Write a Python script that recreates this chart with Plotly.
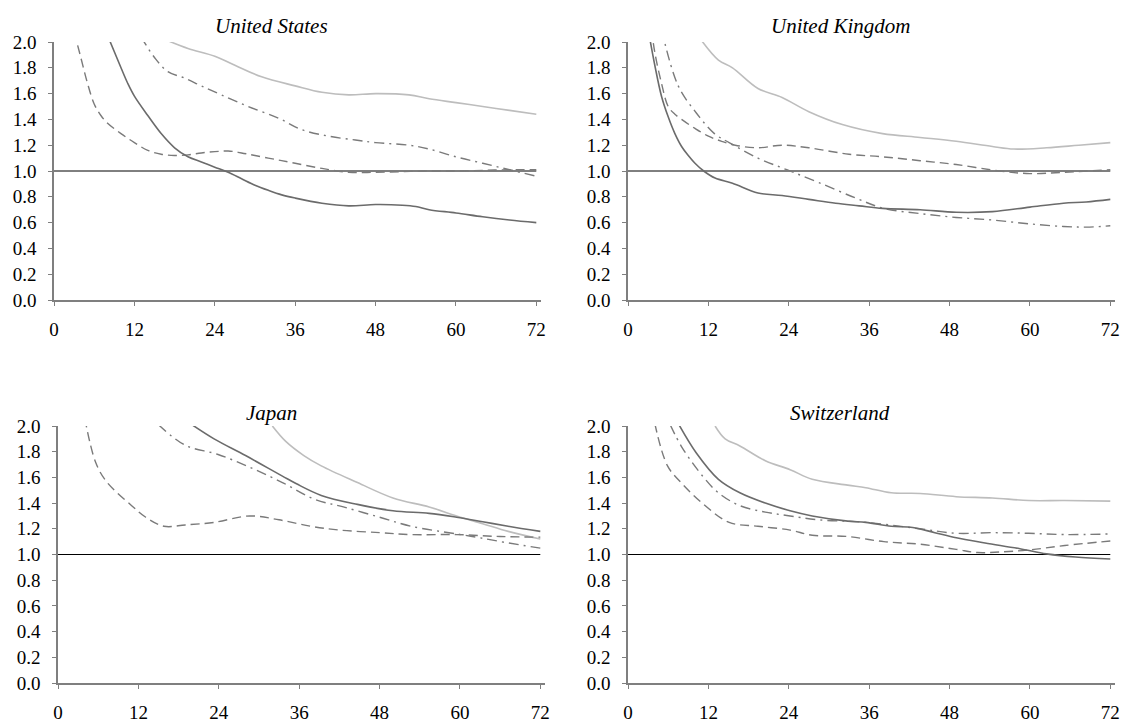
import plotly.graph_objects as go

# ---------------- data (months, ratio) ----------------
titles = ["United States", "United Kingdom", "Japan", "Switzerland"]

us_solid_x = [8, 10, 11, 12, 14, 16, 18, 20, 22, 24, 26, 28, 30, 32, 34, 36, 40, 44, 48, 52, 54, 56, 60, 64, 68, 72]
us_solid_y = [2.05, 1.80, 1.68, 1.58, 1.43, 1.29, 1.18, 1.11, 1.07, 1.03, 0.99, 0.94, 0.89, 0.85, 0.815, 0.79, 0.75, 0.73, 0.74, 0.735, 0.725, 0.70, 0.675, 0.645, 0.62, 0.60]
us_light_x = [17, 20, 24, 27, 31, 36, 40, 44, 48, 53, 56, 60, 64, 68, 72]
us_light_y = [2.01, 1.95, 1.89, 1.82, 1.73, 1.66, 1.61, 1.59, 1.60, 1.59, 1.56, 1.53, 1.50, 1.47, 1.44]
us_dash_x = [3, 4, 5, 6, 7, 8, 10, 12, 14, 16, 18, 20, 22, 24, 26, 28, 30, 33, 36, 40, 44, 48, 52, 56, 60, 64, 68, 72]
us_dash_y = [2.08, 1.88, 1.68, 1.52, 1.43, 1.37, 1.29, 1.22, 1.16, 1.13, 1.12, 1.125, 1.14, 1.15, 1.155, 1.14, 1.12, 1.09, 1.06, 1.02, 0.99, 0.99, 0.995, 1.0, 1.0, 1.005, 1.01, 1.01]
us_dd_x = [13, 15, 17, 19.5, 22, 25, 29, 33.5, 37, 41, 45, 48, 53, 56, 60, 64, 68, 72]
us_dd_y = [2.04, 1.88, 1.77, 1.72, 1.66, 1.59, 1.50, 1.41, 1.32, 1.27, 1.24, 1.22, 1.20, 1.17, 1.11, 1.06, 1.01, 0.96]

uk_solid_x = [3, 4, 5, 6, 7, 8, 9, 10, 11.3, 13, 15.6, 19.4, 23, 27, 31, 34.5, 38, 43.6, 49, 54.4, 60, 65, 68.4, 72]
uk_solid_y = [2.1, 1.82, 1.58, 1.42, 1.29, 1.19, 1.12, 1.06, 1.00, 0.945, 0.905, 0.83, 0.81, 0.78, 0.75, 0.73, 0.71, 0.70, 0.68, 0.685, 0.72, 0.75, 0.76, 0.78]
uk_light_x = [11, 13.5, 15.6, 19.4, 23, 27, 32, 38, 43.6, 49, 54.4, 57.6, 62.5, 67.3, 72]
uk_light_y = [2.01, 1.86, 1.80, 1.64, 1.57, 1.46, 1.36, 1.29, 1.26, 1.23, 1.19, 1.17, 1.18, 1.20, 1.22]
uk_dash_x = [3.5, 4, 5, 6, 7, 8, 10, 12, 14, 16, 19.4, 23, 27, 33, 38, 43.6, 49, 55.5, 60, 65, 72]
uk_dash_y = [2.1, 1.92, 1.68, 1.50, 1.44, 1.40, 1.33, 1.27, 1.23, 1.20, 1.18, 1.20, 1.18, 1.13, 1.11, 1.08, 1.05, 1.00, 0.98, 0.99, 1.01]
uk_dd_x = [5, 7.5, 10.2, 12.9, 15.1, 19.4, 23.7, 28.5, 34, 38.2, 43.6, 49, 54.4, 60, 65, 68.4, 72]
uk_dd_y = [2.1, 1.66, 1.45, 1.29, 1.22, 1.10, 1.01, 0.91, 0.79, 0.71, 0.67, 0.64, 0.62, 0.59, 0.57, 0.565, 0.575]

jp_solid_x = [20, 23.3, 28, 33.5, 35.6, 39.3, 44.7, 50, 55.4, 59.5, 63.4, 67.2, 72]
jp_solid_y = [2.01, 1.90, 1.77, 1.61, 1.55, 1.46, 1.39, 1.34, 1.32, 1.29, 1.255, 1.22, 1.18]
jp_light_x = [32, 34, 36.7, 39.3, 44.7, 50, 55.4, 59.5, 63.4, 67.2, 72]
jp_light_y = [2.0, 1.88, 1.77, 1.69, 1.56, 1.44, 1.37, 1.30, 1.24, 1.18, 1.12]
jp_dash_x = [4, 5.6, 7.2, 11, 13.1, 15.8, 19, 23.3, 28.6, 33, 37.7, 42, 48, 52.7, 59.5, 66, 72]
jp_dash_y = [2.06, 1.72, 1.57, 1.38, 1.29, 1.22, 1.23, 1.25, 1.30, 1.27, 1.22, 1.19, 1.17, 1.155, 1.155, 1.14, 1.135]
jp_dd_x = [15, 19, 23.8, 28.6, 33.5, 38.3, 42.6, 48, 52.7, 59.5, 63, 67.2, 72]
jp_dd_y = [2.01, 1.85, 1.78, 1.68, 1.56, 1.43, 1.37, 1.29, 1.22, 1.16, 1.13, 1.09, 1.05]

ch_solid_x = [7.5, 10.2, 13.5, 16.7, 20.5, 24.2, 27.5, 32.8, 35.5, 39.3, 42.5, 45.8, 49, 53.3, 58.5, 62.5, 66.8, 72]
ch_solid_y = [2.02, 1.79, 1.585, 1.48, 1.40, 1.34, 1.30, 1.26, 1.25, 1.22, 1.21, 1.17, 1.13, 1.09, 1.045, 1.005, 0.98, 0.965]
ch_light_x = [13, 14.5, 16.7, 20.5, 24.2, 27.5, 32.8, 35.5, 39.3, 43.6, 49, 54.4, 59.8, 65.2, 72]
ch_light_y = [2.0, 1.90, 1.845, 1.73, 1.66, 1.585, 1.54, 1.52, 1.48, 1.475, 1.45, 1.44, 1.42, 1.42, 1.415]
ch_dash_x = [4, 5.9, 8.1, 11.3, 15.1, 19.4, 24.2, 27.5, 32.8, 38.2, 43.6, 49, 52.2, 55.5, 59.8, 65.2, 72]
ch_dash_y = [2.02, 1.69, 1.55, 1.39, 1.25, 1.22, 1.19, 1.15, 1.14, 1.10, 1.08, 1.04, 1.015, 1.02, 1.035, 1.07, 1.105]
ch_dd_x = [6.3, 8.1, 11.3, 13.5, 16.7, 20.5, 24.2, 28.5, 35.5, 43.6, 49, 54.4, 59.8, 65.2, 72]
ch_dd_y = [2.01, 1.83, 1.60, 1.48, 1.38, 1.33, 1.30, 1.27, 1.25, 1.20, 1.165, 1.17, 1.165, 1.155, 1.16]

ref_x = [0, 72]
ref_y = [1.0, 1.0]

x_ticks = [0, 12, 24, 36, 48, 60, 72]
y_ticks = [0.0, 0.2, 0.4, 0.6, 0.8, 1.0, 1.2, 1.4, 1.6, 1.8, 2.0]
y_tick_text = ["0.0", "0.2", "0.4", "0.6", "0.8", "1.0", "1.2", "1.4", "1.6", "1.8", "2.0"]

panels = [
    (us_solid_x, us_solid_y, us_light_x, us_light_y, us_dash_x, us_dash_y, us_dd_x, us_dd_y),
    (uk_solid_x, uk_solid_y, uk_light_x, uk_light_y, uk_dash_x, uk_dash_y, uk_dd_x, uk_dd_y),
    (jp_solid_x, jp_solid_y, jp_light_x, jp_light_y, jp_dash_x, jp_dash_y, jp_dd_x, jp_dd_y),
    (ch_solid_x, ch_solid_y, ch_light_x, ch_light_y, ch_dash_x, ch_dash_y, ch_dd_x, ch_dd_y),
]

# ---------------- layout geometry ----------------
W, H = 1123, 725
x_domains = [(54, 541), (628, 1115), (58, 545), (628, 1115)]
y_domains = [(300, 42), (300, 42), (683, 426), (683, 426)]
title_pos = [(271, 26), (840, 26), (271, 413), (840, 413)]

fig = go.Figure()

axis_color = "#7f7f7f"
font_family = "Liberation Serif"

for i, (sx, sy, lx, ly, dx, dy, ddx, ddy) in enumerate(panels):
    xa = "x" if i == 0 else f"x{i+1}"
    ya = "y" if i == 0 else f"y{i+1}"
    fig.add_trace(go.Scatter(x=ref_x, y=ref_y, mode="lines", xaxis=xa, yaxis=ya,
                             line=dict(color="#000000", width=1), showlegend=False, hoverinfo="skip"))
    fig.add_trace(go.Scatter(x=lx, y=ly, mode="lines", xaxis=xa, yaxis=ya, line_shape="spline",
                             line=dict(color="#bdbdbd", width=1.6), showlegend=False))
    fig.add_trace(go.Scatter(x=dx, y=dy, mode="lines", xaxis=xa, yaxis=ya, line_shape="spline",
                             line=dict(color="#7a7a7a", width=1.4, dash="9px,5px"), showlegend=False))
    fig.add_trace(go.Scatter(x=ddx, y=ddy, mode="lines", xaxis=xa, yaxis=ya, line_shape="spline",
                             line=dict(color="#7a7a7a", width=1.4, dash="10px,5px,2px,5px"), showlegend=False))
    fig.add_trace(go.Scatter(x=sx, y=sy, mode="lines", xaxis=xa, yaxis=ya, line_shape="spline",
                             line=dict(color="#6b6b6b", width=1.6), showlegend=False))

    x0, x1 = x_domains[i]
    yb, yt = y_domains[i]
    key_x = "xaxis" if i == 0 else f"xaxis{i+1}"
    key_y = "yaxis" if i == 0 else f"yaxis{i+1}"
    fig.layout[key_x] = dict(
        domain=[x0 / W, x1 / W], range=[0, 72.7], anchor=ya, automargin=False,
        tickvals=x_ticks, ticktext=[str(t) for t in x_ticks],
        showline=True, linecolor=axis_color, linewidth=1.5,
        ticks="outside", ticklen=4, tickcolor=axis_color, tickwidth=1.2,
        showgrid=False, zeroline=False, ticklabelstandoff=7,
        tickfont=dict(family=font_family, size=19, color="#000000"),
    )
    fig.layout[key_y] = dict(
        domain=[1 - yb / H, 1 - yt / H], range=[0, 2.0], anchor=xa, automargin=False,
        tickvals=y_ticks, ticktext=y_tick_text,
        showline=True, linecolor=axis_color, linewidth=1.5,
        ticks="outside", ticklen=4, tickcolor=axis_color, tickwidth=1.2,
        showgrid=False, zeroline=False, ticklabelstandoff=8,
        tickfont=dict(family=font_family, size=19, color="#000000"),
    )
    tx, ty = title_pos[i]
    fig.add_annotation(x=tx / W, y=1 - ty / H, xref="paper", yref="paper",
                       text=f"<i>{titles[i]}</i>", showarrow=False,
                       xanchor="center", yanchor="middle",
                       font=dict(family=font_family, size=21, color="#000000"))

fig.update_layout(width=W, height=H, margin=dict(l=0, r=0, t=0, b=0, pad=0),
                  paper_bgcolor="white", plot_bgcolor="white", showlegend=False,
                  font=dict(family=font_family))

fig.write_html("out.html", config={"displayModeBar": False},
               post_script="document.body.style.margin='0';document.body.style.overflow='hidden';")
